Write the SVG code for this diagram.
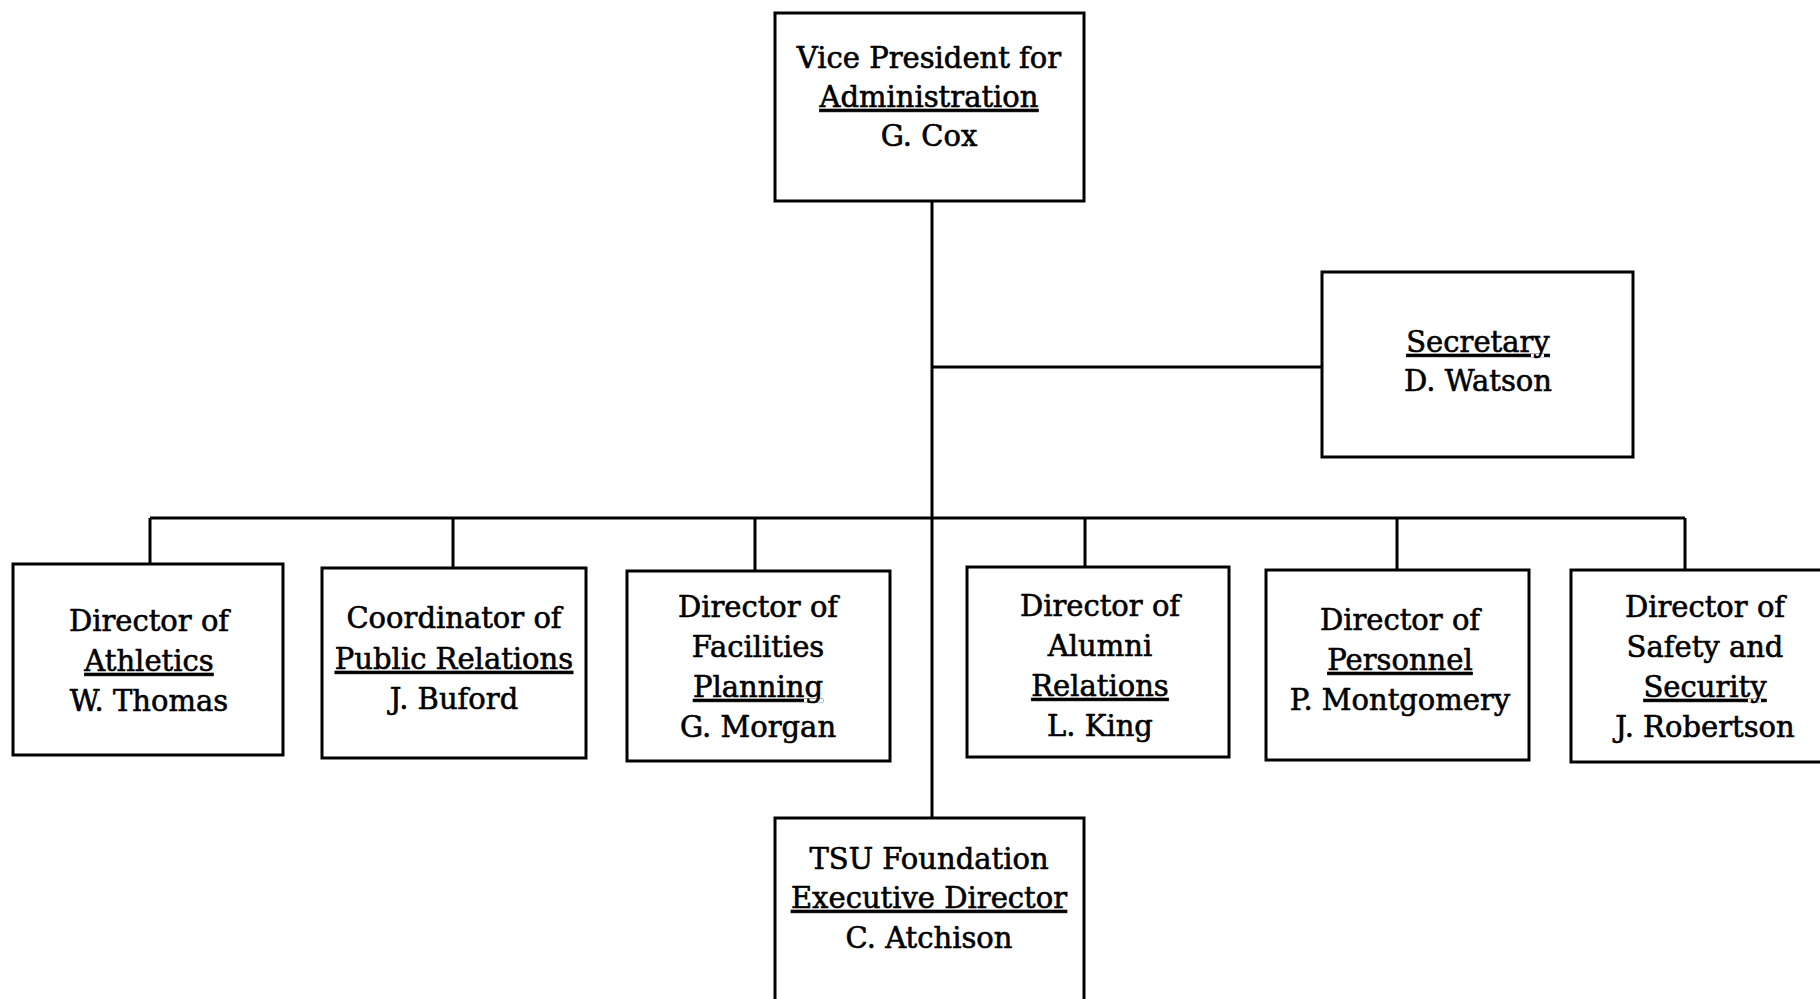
<svg xmlns="http://www.w3.org/2000/svg" width="1820" height="999" viewBox="0 0 1820 999">
<style>
.box{fill:#fff;stroke:#000;stroke-width:3}
.ln{stroke:#000;stroke-width:3;fill:none}
text{font-family:"DejaVu Serif","Liberation Serif",serif;font-size:29px;fill:#000;stroke:#000;stroke-width:0.6;text-anchor:middle}
.u{text-decoration:underline}
</style>
<rect width="1820" height="999" fill="#fff"/>
<g id="connectors">
<line class="ln" x1="932" y1="201" x2="932" y2="818"/>
<line class="ln" x1="932" y1="367" x2="1322" y2="367"/>
<line class="ln" x1="150" y1="518" x2="1685" y2="518"/>
<line class="ln" x1="150" y1="518" x2="150" y2="564"/>
<line class="ln" x1="453" y1="518" x2="453" y2="568"/>
<line class="ln" x1="755" y1="518" x2="755" y2="571"/>
<line class="ln" x1="1085" y1="518" x2="1085" y2="567"/>
<line class="ln" x1="1397" y1="518" x2="1397" y2="570"/>
<line class="ln" x1="1685" y1="518" x2="1685" y2="570"/>
</g>
<g id="vp">
<rect class="box" x="775" y="13" width="309" height="188"/>
<text x="929" y="68">Vice President for</text>
<text x="929" y="107" class="u">Administration</text>
<text x="929" y="146">G. Cox</text>
</g>
<g id="secretary">
<rect class="box" x="1322" y="272" width="311" height="185"/>
<text x="1478" y="352" class="u">Secretary</text>
<text x="1478" y="391">D. Watson</text>
</g>
<g id="athletics">
<rect class="box" x="13" y="564" width="270" height="191"/>
<text x="149" y="631">Director of</text>
<text x="149" y="671" class="u">Athletics</text>
<text x="149" y="711">W. Thomas</text>
</g>
<g id="public-relations">
<rect class="box" x="322" y="568" width="264" height="190"/>
<text x="454" y="628">Coordinator of</text>
<text x="454" y="669" class="u">Public Relations</text>
<text x="454" y="709">J. Buford</text>
</g>
<g id="facilities">
<rect class="box" x="627" y="571" width="263" height="190"/>
<text x="758" y="617">Director of</text>
<text x="758" y="657">Facilities</text>
<text x="758" y="697" class="u">Planning</text>
<text x="758" y="737">G. Morgan</text>
</g>
<g id="alumni">
<rect class="box" x="967" y="567" width="262" height="190"/>
<text x="1100" y="616">Director of</text>
<text x="1100" y="656">Alumni</text>
<text x="1100" y="696" class="u">Relations</text>
<text x="1100" y="736">L. King</text>
</g>
<g id="personnel">
<rect class="box" x="1266" y="570" width="263" height="190"/>
<text x="1400" y="630">Director of</text>
<text x="1400" y="670" class="u">Personnel</text>
<text x="1400" y="710">P. Montgomery</text>
</g>
<g id="safety">
<rect class="box" x="1571" y="570" width="258" height="192"/>
<text x="1705" y="617">Director of</text>
<text x="1705" y="657">Safety and</text>
<text x="1705" y="697" class="u">Security</text>
<text x="1705" y="737">J. Robertson</text>
</g>
<g id="tsu-foundation">
<rect class="box" x="775" y="818" width="309" height="200"/>
<text x="929" y="869">TSU Foundation</text>
<text x="929" y="908" class="u">Executive Director</text>
<text x="929" y="948">C. Atchison</text>
</g>
</svg>
